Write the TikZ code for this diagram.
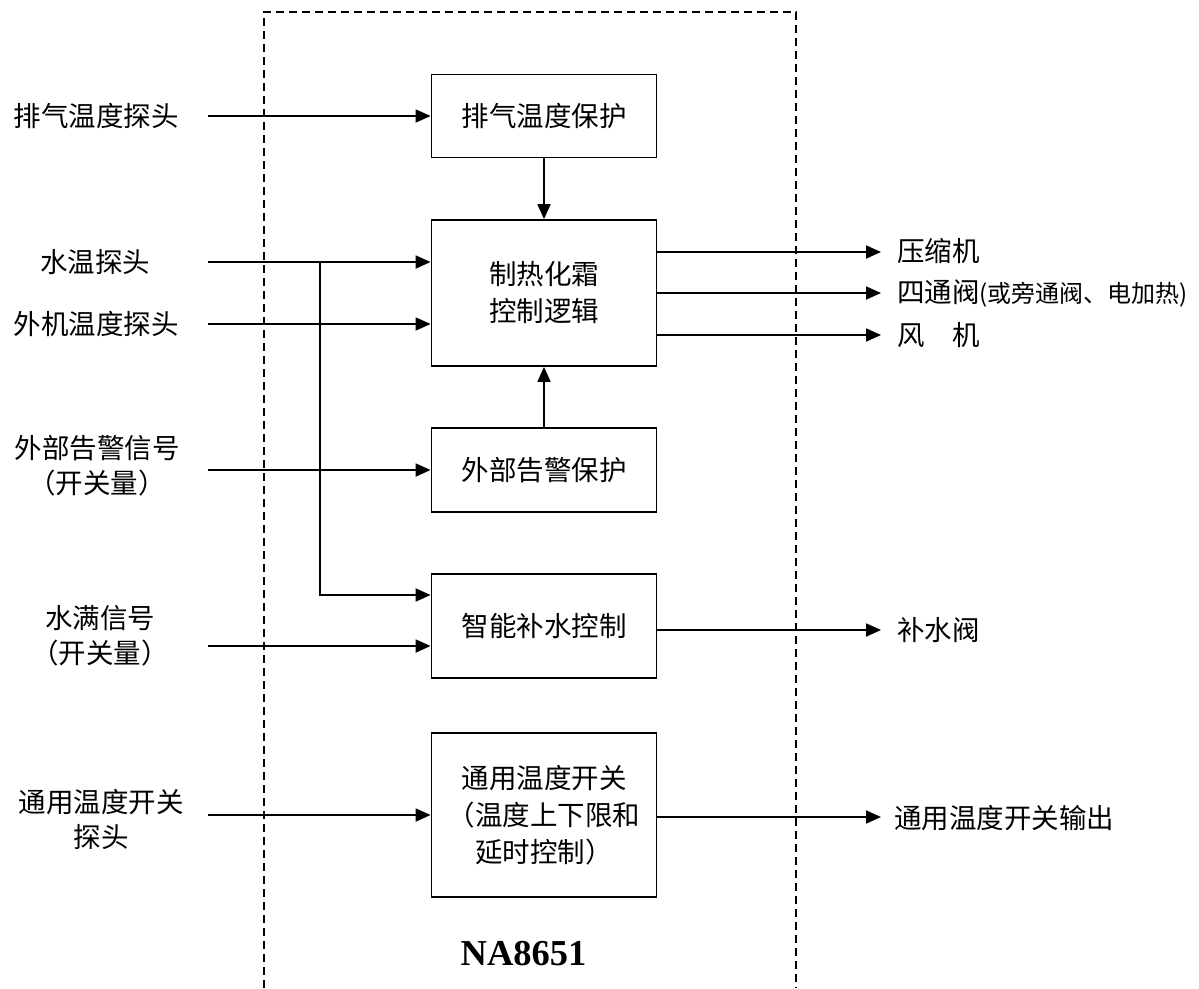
\documentclass[tikz,border=0pt]{standalone}
\usepackage{fontspec}
\newfontfamily\cjk{Noto Sans CJK SC}
\newfontfamily\tnr{Liberation Serif}
\usetikzlibrary{arrows.meta}
\begin{document}
\begin{tikzpicture}[x=1pt,y=-1pt,
  blk/.style={draw,line width=1.8pt,minimum width=225pt,inner sep=0pt,
    font=\cjk\fontsize{27.5}{37}\selectfont,align=center},
  lbl/.style={inner sep=0pt,font=\cjk\fontsize{27.5}{35}\selectfont,align=center},
  conn/.style={line width=1.8pt,-{Triangle[length=15pt,width=13pt]}},
  frame/.style={line width=1.5pt,dash pattern=on 8pt off 5pt}]
\useasboundingbox (0,0) rectangle (1199,988);
% dashed frame
\coordinate (fa) at (264,988);
\coordinate (fb) at (264,12);
\coordinate (fc) at (796,12);
\coordinate (fd) at (796,988);
\draw[frame] (fa) -- (fb) -- (fc) -- (fd);
% blocks
\node[blk,minimum height=83pt] (b1) at (544,116) {排气温度保护};
\node[blk,minimum height=146pt] (b2) at (544,293) {制热化霜\\控制逻辑};
\node[blk,minimum height=84pt] (b3) at (544,470) {外部告警保护};
\node[blk,minimum height=104pt] (b4) at (544,626) {智能补水控制};
\node[blk,minimum height=164pt] (b5) at (544,815) {通用温度开关\\（温度上下限和\\延时控制）};
% input labels
\node[lbl] (l1) at (96,116) {排气温度探头};
\node[lbl] (l2) at (95,262) {水温探头};
\node[lbl] (l3) at (96,324) {外机温度探头};
\node[lbl] (l4) at (97,466) {外部告警信号\\（开关量）};
\node[lbl] (l5) at (100,636) {水满信号\\（开关量）};
\node[lbl] (l6) at (101,819) {通用温度开关\\探头};
% input start points
\coordinate (s1) at (208,116);
\coordinate (s2) at (208,262);
\coordinate (s3) at (208,324);
\coordinate (s4) at (208,470);
\coordinate (s5) at (208,646);
\coordinate (s6) at (208,815);
\coordinate (j) at (320,262);
\draw[conn] (s1) -- (s1 -| b1.west);
\draw[conn] (s2) -- (s2 -| b2.west);
\draw[conn] (s3) -- (s3 -| b2.west);
\draw[conn] (s4) -- (s4 -| b3.west);
\draw[conn] (s5) -- (s5 -| b4.west);
\draw[conn] (s6) -- (s6 -| b5.west);
\draw[conn] (j) |- ([yshift=31pt]b4.west);
% internal
\draw[conn] (b1) -- (b2);
\draw[conn] (b3) -- (b2);
% outputs
\coordinate (e1) at (881,252);
\coordinate (e2) at (881,293);
\coordinate (e3) at (881,335);
\coordinate (e4) at (881,630);
\coordinate (e5) at (881,817);
\draw[conn] (b2.east |- e1) -- (e1);
\draw[conn] (b2.east |- e2) -- (e2);
\draw[conn] (b2.east |- e3) -- (e3);
\draw[conn] (b4.east |- e4) -- (e4);
\draw[conn] (b5.east |- e5) -- (e5);
\node[lbl,anchor=west] (o1) at (897,251) {压缩机};
\node[lbl,anchor=west] (o2) at (897,293) {四通阀{\fontsize{24}{24}\selectfont(或旁通阀、电加热)}};
\node[lbl,anchor=west] (o3) at (897,335) {风\hspace{1em}机};
\node[lbl,anchor=west] (o4) at (897,630) {补水阀};
\node[lbl,anchor=west] (o5) at (894,818) {通用温度开关输出};
% title
\node[inner sep=0pt,font=\tnr\bfseries\fontsize{36.5}{36.5}\selectfont] (na) at (523.5,954) {NA8651};
\end{tikzpicture}
\end{document}
